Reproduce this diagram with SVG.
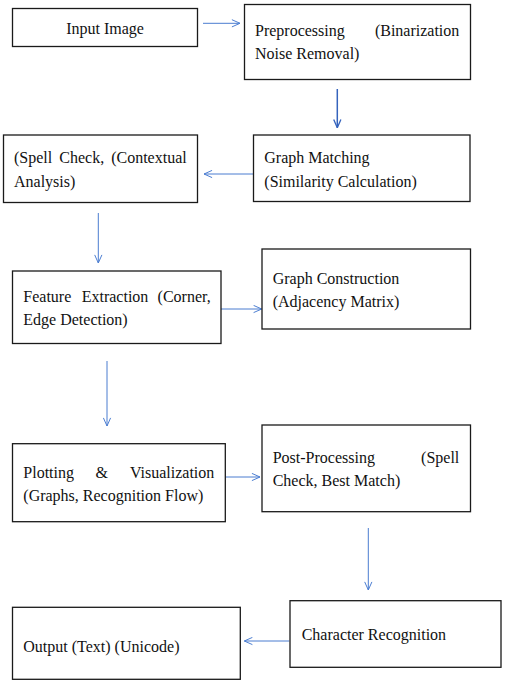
<svg xmlns="http://www.w3.org/2000/svg" width="505" height="682" viewBox="0 0 505 682">
<defs>
<marker id="ah" viewBox="0 0 10 10" refX="10" refY="5" markerWidth="9" markerHeight="9" markerUnits="userSpaceOnUse" orient="auto">
<path d="M1,1 L10,5 L1,9" fill="none" stroke="#4a7cd0" stroke-width="1.1"/>
</marker>
<marker id="ahd" viewBox="0 0 10 10" refX="10" refY="5" markerWidth="9" markerHeight="9" markerUnits="userSpaceOnUse" orient="auto">
<path d="M1,1 L10,5 L1,9" fill="none" stroke="#3563bd" stroke-width="1.5"/>
</marker>
</defs>
<rect width="505" height="682" fill="#fff"/>
<g id="connectors" fill="none" stroke="#4a7cd0" stroke-width="1">
<line x1="203" y1="23.3" x2="240" y2="23.3" marker-end="url(#ah)"/>
<line x1="337.3" y1="89" x2="337.3" y2="127.7" stroke="#3563bd" stroke-width="1.5" marker-end="url(#ahd)"/>
<line x1="253" y1="174" x2="204" y2="174" marker-end="url(#ah)"/>
<line x1="98.3" y1="213" x2="98.3" y2="263" marker-end="url(#ah)"/>
<line x1="221" y1="309" x2="261.7" y2="309" marker-end="url(#ah)"/>
<line x1="107" y1="361" x2="107" y2="426" marker-end="url(#ah)"/>
<line x1="225.3" y1="477" x2="260" y2="477" marker-end="url(#ah)"/>
<line x1="368.3" y1="528" x2="368.3" y2="590" marker-end="url(#ah)"/>
<line x1="289.3" y1="641" x2="244.3" y2="641" marker-end="url(#ah)"/>
</g>
<g id="input-image">
<rect x="12.5" y="8.5" width="185" height="38" fill="#fff" stroke="#1a1a1a" stroke-width="1.3"/>
<text x="105" y="33.5" font-family="Liberation Serif" font-size="16" fill="#111" text-anchor="middle">Input Image</text>
</g>
<g id="preprocessing">
<rect x="244.5" y="4.5" width="226" height="75" fill="#fff" stroke="#1a1a1a" stroke-width="1.3"/>
<text font-family="Liberation Serif" font-size="16" fill="#111"><tspan x="255" y="36">Preprocessing</tspan><tspan x="459.3" y="36" text-anchor="end">(Binarization</tspan><tspan x="255" y="59">Noise Removal)</tspan></text>
</g>
<g id="graph-matching">
<rect x="253.5" y="135" width="216.5" height="66.5" fill="#fff" stroke="#1a1a1a" stroke-width="1.3"/>
<text font-family="Liberation Serif" font-size="16" fill="#111"><tspan x="264.3" y="163.3">Graph Matching</tspan><tspan x="264.3" y="186.7">(Similarity Calculation)</tspan></text>
</g>
<g id="spell-check">
<rect x="3.5" y="135" width="194" height="67.5" fill="#fff" stroke="#1a1a1a" stroke-width="1.3"/>
<text font-family="Liberation Serif" font-size="16" fill="#111"><tspan x="14" y="163.3">(Spell</tspan><tspan x="59.3" y="163.3">Check,</tspan><tspan x="186.7" y="163.3" text-anchor="end">(Contextual</tspan><tspan x="14" y="186.7">Analysis)</tspan></text>
</g>
<g id="feature-extraction">
<rect x="12.5" y="271" width="208.5" height="72.5" fill="#fff" stroke="#1a1a1a" stroke-width="1.3"/>
<text font-family="Liberation Serif" font-size="16" fill="#111"><tspan x="23.3" y="302.3">Feature</tspan><tspan x="81.7" y="302.3">Extraction</tspan><tspan x="210.7" y="302.3" text-anchor="end">(Corner,</tspan><tspan x="23.3" y="325">Edge Detection)</tspan></text>
</g>
<g id="graph-construction">
<rect x="262" y="249" width="208.5" height="80" fill="#fff" stroke="#1a1a1a" stroke-width="1.3"/>
<text font-family="Liberation Serif" font-size="16" fill="#111"><tspan x="272.7" y="284.3">Graph Construction</tspan><tspan x="272.7" y="306.7">(Adjacency Matrix)</tspan></text>
</g>
<g id="plotting">
<rect x="12.5" y="443.7" width="212.8" height="78" fill="#fff" stroke="#1a1a1a" stroke-width="1.3"/>
<text font-family="Liberation Serif" font-size="16" fill="#111"><tspan x="23.3" y="478.3">Plotting</tspan><tspan x="101.7" y="478.3" text-anchor="middle">&amp;</tspan><tspan x="214.3" y="478.3" text-anchor="end">Visualization</tspan><tspan x="23.3" y="501">(Graphs, Recognition Flow)</tspan></text>
</g>
<g id="post-processing">
<rect x="262" y="425" width="208.5" height="86.7" fill="#fff" stroke="#1a1a1a" stroke-width="1.3"/>
<text font-family="Liberation Serif" font-size="16" fill="#111"><tspan x="272.7" y="463.3">Post-Processing</tspan><tspan x="459.3" y="463.3" text-anchor="end">(Spell</tspan><tspan x="272.7" y="486">Check, Best Match)</tspan></text>
</g>
<g id="character-recognition">
<rect x="290" y="600.7" width="211" height="66.6" fill="#fff" stroke="#1a1a1a" stroke-width="1.3"/>
<text x="301.7" y="640" font-family="Liberation Serif" font-size="16" fill="#111">Character Recognition</text>
</g>
<g id="output">
<rect x="12.5" y="607.3" width="227.8" height="72" fill="#fff" stroke="#1a1a1a" stroke-width="1.3"/>
<text x="23.3" y="651.7" font-family="Liberation Serif" font-size="16" fill="#111">Output (Text) (Unicode)</text>
</g>
</svg>
